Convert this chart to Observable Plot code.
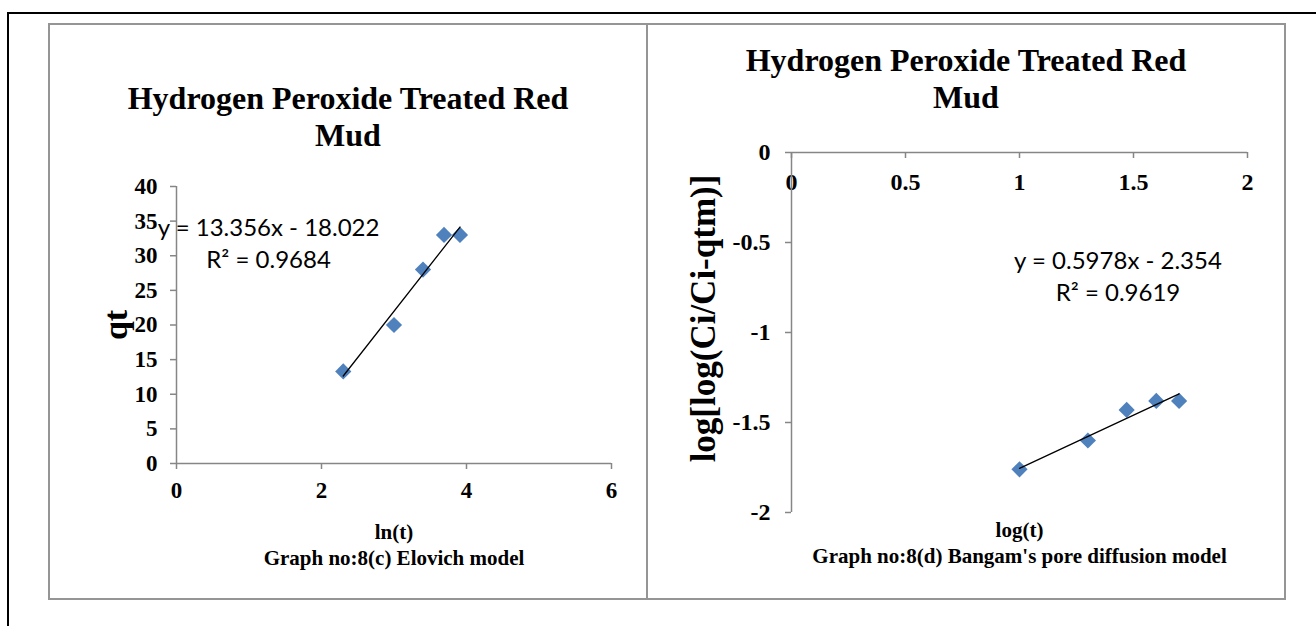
<!DOCTYPE html>
<html>
<head>
<meta charset="utf-8">
<script src="https://cdn.jsdelivr.net/npm/d3@7"></script>
<script src="https://cdn.jsdelivr.net/npm/@observablehq/plot@0.6"></script>
<style>
html, body { margin: 0; padding: 0; background: #fff; }
#page { position: relative; width: 1316px; height: 626px; overflow: hidden; background: #fff; }
.abs { position: absolute; }
.title { position: absolute; text-align: center; font-family: "Liberation Serif", "Times New Roman", serif; font-weight: bold; font-size: 32px; line-height: 37px; color: #000; white-space: nowrap; }
</style>
</head>
<body>
<div id="page">
  <div class="abs" style="left:7px;top:12px;width:1309px;height:614px;border-top:2px solid #000;border-left:2px solid #000;box-sizing:border-box"></div>
  <div class="abs" style="left:48px;top:23px;width:1238px;height:577px;border:2px solid #959595;box-sizing:border-box"></div>
  <div class="abs" style="left:646px;top:23px;width:2px;height:577px;background:#959595"></div>
  <div id="left" class="abs" style="left:50px;top:25px"></div>
  <div id="right" class="abs" style="left:648px;top:25px"></div>
  <div id="titleLeft" class="title" style="left:48px;width:600px;top:80px"></div>
  <div id="titleRight" class="title" style="left:646px;width:640px;top:42px"></div>
</div>
<script>
// ---- data ----
const timeMin = [10, 20, 30, 40, 50];
const lnT = [2.30, 3.00, 3.40, 3.69, 3.91];
const qt = [13.3, 20.0, 28.0, 33.0, 33.0];
const logT = [1.00, 1.30, 1.47, 1.60, 1.70];
const logLogRatio = [-1.76, -1.60, -1.43, -1.38, -1.38];

const leftXTicks = [0, 2, 4, 6];
const leftYTicks = [0, 5, 10, 15, 20, 25, 30, 35, 40];
const rightXTicks = [0, 0.5, 1, 1.5, 2];
const rightYTicks = [0, -0.5, -1, -1.5, -2];

const chartTitle = ["Hydrogen Peroxide Treated Red", "Mud"];
const leftEquation = ["y = 13.356x - 18.022", "R² = 0.9684"];
const rightEquation = ["y = 0.5978x - 2.354", "R² = 0.9619"];
const leftXLabel = ["ln(t)", "Graph no:8(c) Elovich model"];
const rightXLabel = ["log(t)", "Graph no:8(d) Bangam's pore diffusion model"];
const leftYLabel = "qt";
const rightYLabel = "log[log(Ci/Ci-qtm)]";

// ---- styling ----
const serif = "'Liberation Serif', 'Times New Roman', serif";
const sans = "Lato, 'Liberation Sans', sans-serif";
const axisGray = "#868686";
const blue = "#4F81BD";

document.getElementById("titleLeft").innerHTML = chartTitle.join("<br>");
document.getElementById("titleRight").innerHTML = chartTitle.join("<br>");

const leftData = lnT.map((x, i) => ({t: timeMin[i], x, y: qt[i]}));
const rightData = logT.map((x, i) => ({t: timeMin[i], x, y: logLogRatio[i]}));

const baseStyle = {fontFamily: serif, fontWeight: "bold", fontSize: "23px", background: "transparent", color: "black", overflow: "visible"};

const left = Plot.plot({
  width: 596, height: 573,
  marginLeft: 126, marginRight: 35, marginTop: 161, marginBottom: 135,
  x: {domain: [0, 6], axis: null},
  y: {domain: [0, 40], axis: null},
  style: baseStyle,
  marks: [
    Plot.axisY(leftYTicks, {tickSize: 6, tickPadding: 13, stroke: axisGray, strokeWidth: 1.5, fill: "black", tickFormat: d => String(d), label: null}),
    Plot.axisX(leftXTicks, {tickSize: 6, tickPadding: 12, stroke: axisGray, strokeWidth: 1.5, fill: "black", tickFormat: d => String(d), label: null}),
    Plot.ruleX([0], {stroke: axisGray, strokeWidth: 1.5}),
    Plot.ruleY([0], {stroke: axisGray, strokeWidth: 1.5}),
    Plot.dot(leftData, {x: "x", y: "y", symbol: "diamond2", r: 7.3, fill: blue}),
    Plot.linearRegressionY(leftData, {x: "x", y: "y", stroke: "black", strokeWidth: 1.3, ci: 0}),
    Plot.text([leftEquation.join("\n")], {x: () => 1.27, y: () => 32.06, text: d => d, fontFamily: sans, fontWeight: "normal", fontSize: 24, lineHeight: 1.33, textAnchor: "middle", lineAnchor: "middle"}),
    Plot.text([leftYLabel], {frameAnchor: "left", rotate: -90, dx: -60, text: d => d, fontSize: 34, textAnchor: "middle", lineAnchor: "middle"}),
    Plot.text([leftXLabel.join("\n")], {frameAnchor: "bottom", dy: 80, text: d => d, fontSize: 21, lineHeight: 1.24, textAnchor: "middle", lineAnchor: "middle"})
  ]
});
document.getElementById("left").appendChild(left);

const rightFrameH = 573 - 127 - 86;
const right = Plot.plot({
  width: 636, height: 573,
  marginLeft: 143, marginRight: 37, marginTop: 127, marginBottom: 86,
  x: {domain: [0, 2], axis: null},
  y: {domain: [-2, 0], axis: null},
  style: {...baseStyle, fontSize: "24px"},
  marks: [
    Plot.axisY(rightYTicks, {tickSize: 6, tickPadding: 15, stroke: axisGray, strokeWidth: 1.5, fill: "black", tickFormat: d => String(d), label: null}),
    Plot.tickX(rightXTicks, {x: d => d, stroke: axisGray, strokeWidth: 1.5, insetBottom: rightFrameH - 6}),
    Plot.text(rightXTicks, {x: d => d, frameAnchor: "top", dy: 30, text: d => String(d), textAnchor: "middle", lineAnchor: "middle"}),
    Plot.ruleX([0], {stroke: axisGray, strokeWidth: 1.5}),
    Plot.ruleY([0], {stroke: axisGray, strokeWidth: 1.5}),
    Plot.dot(rightData, {x: "x", y: "y", symbol: "diamond2", r: 7.3, fill: blue}),
    Plot.linearRegressionY(rightData, {x: "x", y: "y", stroke: "black", strokeWidth: 1.3, ci: 0}),
    Plot.text([rightEquation.join("\n")], {x: () => 1.432, y: () => -0.678, text: d => d, fontFamily: sans, fontWeight: "normal", fontSize: 24, lineHeight: 1.33, textAnchor: "middle", lineAnchor: "middle"}),
    Plot.text([rightYLabel], {frameAnchor: "left", rotate: -90, dx: -88, dy: -14, text: d => d, fontSize: 35, textAnchor: "middle", lineAnchor: "middle"}),
    Plot.text([rightXLabel.join("\n")], {frameAnchor: "bottom", dy: 29, text: d => d, fontSize: 21, lineHeight: 1.24, textAnchor: "middle", lineAnchor: "middle"})
  ]
});
document.getElementById("right").appendChild(right);
</script>
</body>
</html>
